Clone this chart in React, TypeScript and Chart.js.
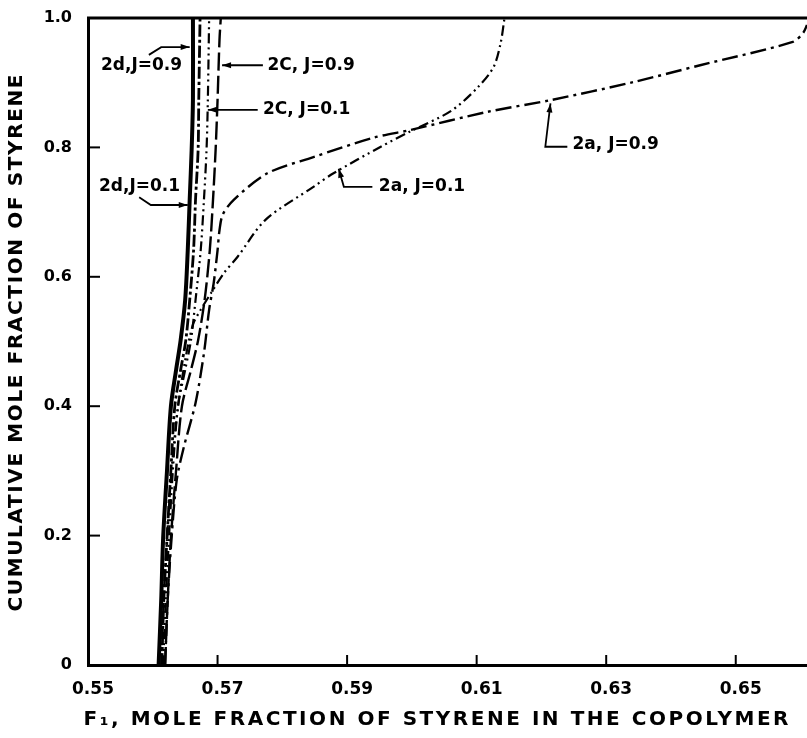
import React, { useEffect, useRef } from "react";
import { Chart, registerables } from "chart.js";

Chart.register(...registerables);

// ---- axis ticks ----
const xTickValues = [0.55, 0.57, 0.59, 0.61, 0.63, 0.65];
const yTickValues = [0, 0.2, 0.4, 0.6, 0.8, 1.0];
const xMin = 0.55;
const xMax = 0.661;
const yMin = 0;
const yMax = 1.0;

// ---- series (F1, cumulative mole fraction) ----
const c2dJ01_x = [0.5609, 0.5613, 0.5616, 0.5622, 0.5628, 0.5636, 0.5643, 0.565, 0.5654, 0.5657, 0.566, 0.5662, 0.5662];
const c2dJ01_y = [0, 0.1, 0.196, 0.301, 0.4, 0.456, 0.502, 0.564, 0.641, 0.719, 0.796, 0.873, 1.0];

const c2dJ09_x = [0.5614, 0.5617, 0.5622, 0.5628, 0.5634, 0.5643, 0.5651, 0.5657, 0.5663, 0.5666, 0.567, 0.5671, 0.5673];
const c2dJ09_y = [0, 0.1, 0.196, 0.301, 0.4, 0.456, 0.502, 0.564, 0.641, 0.719, 0.796, 0.873, 1.0];

const c2cJ01_x = [0.5616, 0.562, 0.5625, 0.5631, 0.5639, 0.565, 0.5659, 0.5666, 0.5674, 0.5679, 0.5683, 0.5685, 0.5687];
const c2cJ01_y = [0, 0.1, 0.196, 0.301, 0.4, 0.456, 0.502, 0.564, 0.641, 0.719, 0.796, 0.873, 1.0];

const c2cJ09_x = [0.5619, 0.5623, 0.5628, 0.5636, 0.5645, 0.5659, 0.567, 0.568, 0.5688, 0.5693, 0.5697, 0.57, 0.5703, 0.5705];
const c2cJ09_y = [0, 0.1, 0.196, 0.301, 0.4, 0.456, 0.502, 0.564, 0.641, 0.719, 0.796, 0.873, 0.966, 1.0];

const c2aJ01_x = [0.5613, 0.5617, 0.5622, 0.5629, 0.5639, 0.565, 0.5662, 0.5674, 0.569, 0.571, 0.5731, 0.5774, 0.5848, 0.5879, 0.5952, 0.5998, 0.606, 0.6101, 0.6126, 0.6137, 0.6143];
const c2aJ01_y = [0, 0.1, 0.196, 0.301, 0.4, 0.471, 0.526, 0.549, 0.575, 0.606, 0.631, 0.688, 0.739, 0.76, 0.801, 0.825, 0.856, 0.892, 0.924, 0.961, 1.0];

const c2aJ09_x = [0.5619, 0.5623, 0.5629, 0.5637, 0.5648, 0.5666, 0.5679, 0.5687, 0.5694, 0.57, 0.5703, 0.5708, 0.5725, 0.5777, 0.5848, 0.5941, 0.5998, 0.6117, 0.6214, 0.6342, 0.6445, 0.6588, 0.6604, 0.661];
const c2aJ09_y = [0, 0.1, 0.196, 0.286, 0.337, 0.405, 0.482, 0.549, 0.59, 0.641, 0.672, 0.696, 0.719, 0.76, 0.785, 0.815, 0.827, 0.855, 0.873, 0.901, 0.927, 0.963, 0.977, 0.989];

// ---- curve labels (text, anchor, leader path in data units) ----
const noteTexts = ["2d,J=0.9", "2C, J=0.9", "2C, J=0.1", "2d,J=0.1", "2a, J=0.1", "2a, J=0.9"];
const noteAnchorX = [0.552, 0.5777, 0.577, 0.5517, 0.5949, 0.6248];
const noteAnchorY = [0.926, 0.927, 0.858, 0.739, 0.74, 0.804];
const notePaths: number[][][] = [
  [[0.5594, 0.943], [0.5613, 0.955], [0.5657, 0.955]],
  [[0.577, 0.927], [0.5707, 0.927]],
  [[0.5762, 0.858], [0.5685, 0.858]],
  [[0.5579, 0.723], [0.5597, 0.711], [0.5654, 0.711]],
  [[0.5939, 0.739], [0.5895, 0.739], [0.5887, 0.767]],
  [[0.624, 0.801], [0.6206, 0.801], [0.6214, 0.868]],
];

const xTitle = "F\u2081, MOLE FRACTION OF STYRENE IN THE COPOLYMER";
const yTitle = "CUMULATIVE MOLE FRACTION OF STYRENE";

function pts(xs: number[], ys: number[]) {
  return xs.map((x, i) => ({ x, y: ys[i] }));
}

function spacedText(ctx: CanvasRenderingContext2D, text: string, cx: number, cy: number, target: number) {
  (ctx as any).letterSpacing = "0px";
  const w = ctx.measureText(text).width;
  const n = Array.from(text).length;
  const ls = Math.max(0, (target - w) / (n - 1));
  (ctx as any).letterSpacing = ls + "px";
  ctx.textAlign = "left";
  ctx.textBaseline = "middle";
  ctx.fillText(text, cx - target / 2, cy);
  (ctx as any).letterSpacing = "0px";
}

const decorPlugin = {
  id: "decor",
  afterDraw(chart: any) {
    const { ctx, chartArea, scales } = chart;
    const xs = scales.x;
    const ys = scales.y;
    ctx.save();
    ctx.strokeStyle = "#000";
    ctx.fillStyle = "#000";
    // top frame line
    ctx.lineWidth = 3;
    ctx.beginPath();
    ctx.moveTo(chartArea.left - 1, chartArea.top);
    ctx.lineTo(chartArea.right, chartArea.top);
    ctx.stroke();
    // inward ticks
    ctx.lineWidth = 2;
    xTickValues.forEach((v, i) => {
      if (i === 0) return;
      const px = xs.getPixelForValue(v);
      ctx.beginPath();
      ctx.moveTo(px, chartArea.bottom);
      ctx.lineTo(px, chartArea.bottom - 10);
      ctx.stroke();
    });
    yTickValues.forEach((v) => {
      if (v === yMin || v === yMax) return;
      const py = ys.getPixelForValue(v);
      ctx.beginPath();
      ctx.moveTo(chartArea.left, py);
      ctx.lineTo(chartArea.left + 12, py);
      ctx.stroke();
    });
    // curve labels
    ctx.font = "bold 17px 'DejaVu Sans'";
    ctx.textAlign = "left";
    ctx.textBaseline = "middle";
    noteTexts.forEach((t, i) => {
      ctx.fillText(t, xs.getPixelForValue(noteAnchorX[i]), ys.getPixelForValue(noteAnchorY[i]));
      const p = notePaths[i].map(([a, b]) => [xs.getPixelForValue(a), ys.getPixelForValue(b)]);
      ctx.lineWidth = 1.8;
      ctx.beginPath();
      p.forEach(([a, b], k) => (k === 0 ? ctx.moveTo(a, b) : ctx.lineTo(a, b)));
      ctx.stroke();
      const [ex, ey] = p[p.length - 1];
      const [sx, sy] = p[p.length - 2];
      const ang = Math.atan2(ey - sy, ex - sx);
      ctx.beginPath();
      ctx.moveTo(ex, ey);
      ctx.lineTo(ex - 9 * Math.cos(ang) + 3 * Math.sin(ang), ey - 9 * Math.sin(ang) - 3 * Math.cos(ang));
      ctx.lineTo(ex - 9 * Math.cos(ang) - 3 * Math.sin(ang), ey - 9 * Math.sin(ang) + 3 * Math.cos(ang));
      ctx.closePath();
      ctx.fill();
    });
    // axis titles
    ctx.font = "bold 20px 'DejaVu Sans'";
    spacedText(ctx, xTitle, 436, 720, 705);
    ctx.save();
    ctx.translate(17, 343);
    ctx.rotate(-Math.PI / 2);
    spacedText(ctx, yTitle, 0, 0, 537);
    ctx.restore();
    ctx.restore();
  },
};

export default function App() {
  const ref = useRef<HTMLCanvasElement | null>(null);
  useEffect(() => {
    if (!ref.current) return;
    const base = { borderColor: "#000", pointRadius: 0, showLine: true, fill: false, tension: 0.3 };
    const chart = new Chart(ref.current, {
      type: "scatter",
      data: {
        datasets: [
          { ...base, label: "2d, J=0.1", data: pts(c2dJ01_x, c2dJ01_y), borderWidth: 4 },
          { ...base, label: "2d, J=0.9", data: pts(c2dJ09_x, c2dJ09_y), borderWidth: 2.8, borderDash: [12, 3, 3, 3] },
          { ...base, label: "2C, J=0.1", data: pts(c2cJ01_x, c2cJ01_y), borderWidth: 2.2, borderDash: [10, 4, 2, 4, 2, 4] },
          { ...base, label: "2C, J=0.9", data: pts(c2cJ09_x, c2cJ09_y), borderWidth: 2.4, borderDash: [18, 5] },
          { ...base, label: "2a, J=0.1", data: pts(c2aJ01_x, c2aJ01_y), borderWidth: 2.2, borderDash: [10, 4, 2, 4, 2, 4] },
          { ...base, label: "2a, J=0.9", data: pts(c2aJ09_x, c2aJ09_y), borderWidth: 2.4, borderDash: [16, 5, 3, 5] },
        ],
      },
      options: {
        animation: false,
        responsive: false,
        layout: { padding: { top: 18, left: 0, right: 0, bottom: 0 } },
        plugins: { legend: { display: false }, tooltip: { enabled: false }, title: { display: false } },
        scales: {
          x: {
            type: "linear",
            min: xMin,
            max: xMax,
            afterBuildTicks: (s: any) => {
              s.ticks = xTickValues.map((v) => ({ value: v }));
            },
            afterFit: (s: any) => {
              s.height = 73;
            },
            ticks: {
              color: "#000",
              padding: 6,
              labelOffset: 5,
              font: { family: "'DejaVu Sans'", size: 17, weight: "bold" },
              callback: (v: any) => Number(v).toFixed(2),
            },
            grid: { display: false },
            border: { display: true, color: "#000", width: 3 },
          },
          y: {
            type: "linear",
            min: yMin,
            max: yMax,
            afterBuildTicks: (s: any) => {
              s.ticks = yTickValues.map((v) => ({ value: v }));
            },
            afterFit: (s: any) => {
              s.width = 88;
            },
            ticks: {
              color: "#000",
              padding: 8,
              font: { family: "'DejaVu Sans'", size: 16, weight: "bold" },
              callback: (v: any) => (Number(v) === 0 ? "0" : Number(v).toFixed(1)),
            },
            grid: { display: false },
            border: { display: true, color: "#000", width: 3 },
          },
        },
      },
      plugins: [decorPlugin],
    });
    return () => chart.destroy();
  }, []);
  return (
    <div style={{ position: "fixed", left: 0, top: 0, width: 807, height: 738, background: "#fff" }}>
      <canvas ref={ref} width={807} height={738} style={{ display: "block" }} />
    </div>
  );
}
